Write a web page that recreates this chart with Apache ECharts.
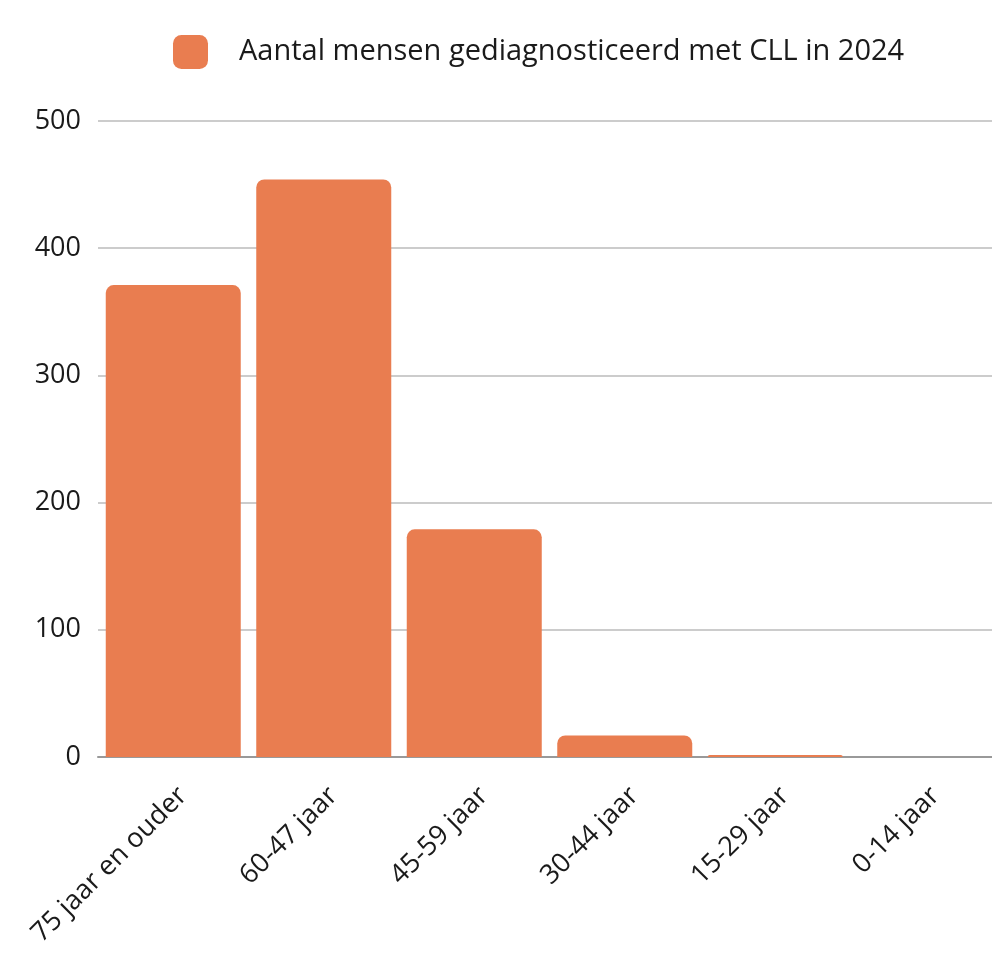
<!DOCTYPE html>
<html>
<head>
<meta charset="utf-8">
<script src="https://cdn.jsdelivr.net/npm/echarts@6/dist/echarts.min.js"></script>
<style>
  html, body { margin: 0; padding: 0; background: #fff; }
  #chart { width: 992px; height: 979px; }
</style>
</head>
<body>
<div id="chart"></div>
<script>
// categories (as written on the original chart)
var categories = ["75 jaar en ouder", "60-47 jaar", "45-59 jaar", "30-44 jaar", "15-29 jaar", "0-14 jaar"];
var seriesName = "Aantal mensen gediagnosticeerd met CLL in 2024";
var values = [371, 454, 179, 17, 1.5, 0];
var yTicks = [0, 100, 200, 300, 400, 500];

var myChart = echarts.init(document.getElementById("chart"));

var option = {
  backgroundColor: "#fff",
  textStyle: { fontFamily: "Open Sans" },
  legend: {
    data: [seriesName],
    left: 168,
    top: 30,
    itemWidth: 35,
    itemHeight: 34,
    icon: "roundRect",
    textStyle: {
      fontFamily: "Open Sans",
      fontSize: 29,
      color: "#1a1a1a",
      padding: [0, 0, 0, 26]
    }
  },
  grid: {
    left: 98,
    width: 903, // runs a little past the right edge, as in the original
    top: 121,
    bottom: 222,
    containLabel: false,
    outerBoundsMode: "none"
  },
  xAxis: {
    type: "category",
    data: categories,
    axisTick: { show: false },
    axisLine: { lineStyle: { color: "#999", width: 2 } },
    axisLabel: {
      rotate: 45,
      margin: 25,
      fontSize: 27,
      color: "#1a1a1a",
      verticalAlign: "top",
      interval: 0
    }
  },
  yAxis: {
    type: "value",
    min: yTicks[0],
    max: yTicks[yTicks.length - 1],
    interval: 100,
    axisLine: { show: false },
    axisTick: { show: false },
    axisLabel: {
      fontSize: 27,
      color: "#1a1a1a",
      margin: 17
    },
    splitLine: { lineStyle: { color: "#cccccc", width: 2 } }
  },
  series: [
    {
      name: seriesName,
      type: "bar",
      data: values,
      barWidth: 135,
      itemStyle: {
        color: "#E97D50",
        borderRadius: [8, 8, 0, 0]
      }
    }
  ]
};
myChart.setOption(option);
</script>
</body>
</html>
